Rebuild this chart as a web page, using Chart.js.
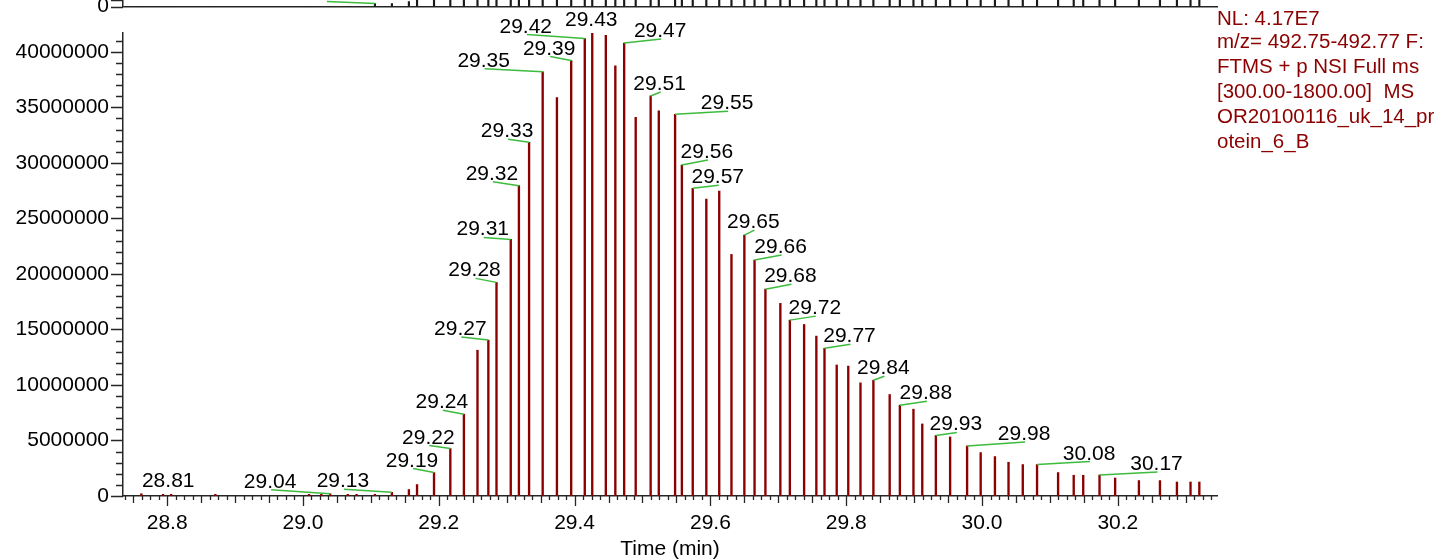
<!DOCTYPE html>
<html>
<head>
<meta charset="utf-8">
<script src="https://cdn.jsdelivr.net/npm/chart.js@4.4.1/dist/chart.umd.min.js"></script>
<style>
  html, body { margin: 0; padding: 0; background: #fff; }
  #wrap { position: relative; width: 1447px; height: 560px; overflow: hidden; background: #fff; }
  #mainChart { position: absolute; left: 0; top: 0; }
  #stripChart { position: absolute; left: 0; top: -50px; }
</style>
</head>
<body>
<div id="wrap">
  <canvas id="mainChart" width="1447" height="560"></canvas>
  <canvas id="stripChart" width="1447" height="100"></canvas>
</div>
<script>
// retention times of the scans (min)
const times = [
  28.762, 28.794, 28.806, 28.871, 29.009, 29.027, 29.040, 29.066, 29.079, 29.106,
  29.131, 29.156, 29.168, 29.193, 29.217, 29.237, 29.257, 29.273, 29.285, 29.306,
  29.318, 29.333, 29.353, 29.374, 29.395, 29.415, 29.426, 29.446, 29.460, 29.473,
  29.490, 29.512, 29.524, 29.548, 29.558, 29.574, 29.594, 29.613, 29.631, 29.650,
  29.665, 29.681, 29.703, 29.717, 29.738, 29.756, 29.768, 29.786, 29.803, 29.821,
  29.840, 29.864, 29.879, 29.899, 29.912, 29.932, 29.953, 29.978, 29.998, 30.019,
  30.039, 30.060, 30.081, 30.112, 30.135, 30.149, 30.173, 30.196, 30.231, 30.262,
  30.287, 30.307, 30.320
];

// intensity of m/z 492.75-492.77 in each scan
const intensities = [
  200000, 150000, 150000, 150000, 150000, 150000, 200000, 150000, 150000, 150000,
  330000, 580000, 1030000, 2110000, 4270000, 7370000, 13130000, 14040000, 19240000, 23110000,
  27950000, 31860000, 38200000, 35880000, 39220000, 41200000, 41700000, 41500000, 38740000, 40790000,
  34110000, 36030000, 34680000, 34380000, 29810000, 27710000, 26750000, 27470000, 21760000, 23500000,
  21250000, 18630000, 17350000, 15840000, 15450000, 14400000, 13300000, 11800000, 11700000, 10190000,
  10430000, 9140000, 8180000, 7820000, 6490000, 5450000, 5320000, 4510000, 3910000, 3550000,
  3040000, 2830000, 2830000, 2110000, 1870000, 1870000, 1890000, 1620000, 1390000, 1390000,
  1260000, 1260000, 1260000
];

// the panel above is cut off: only the bottom of its sticks shows
const upperValues = [
  0, 0, 0, 0, 0, 0, 0, 0, 0, 450000,
  450000, 750000, 5000000, 5000000, 5000000, 5000000, 5000000, 5000000, 5000000, 5000000,
  5000000, 5000000, 5000000, 5000000, 5000000, 5000000, 5000000, 5000000, 5000000, 5000000,
  5000000, 5000000, 5000000, 5000000, 5000000, 5000000, 5000000, 5000000, 5000000, 5000000,
  5000000, 5000000, 5000000, 5000000, 5000000, 5000000, 5000000, 5000000, 5000000, 5000000,
  5000000, 5000000, 5000000, 5000000, 5000000, 5000000, 5000000, 5000000, 5000000, 5000000,
  5000000, 5000000, 5000000, 5000000, 5000000, 5000000, 5000000, 5000000, 5000000, 5000000,
  5000000, 5000000, 5000000
];

const peakLabels = ['28.81', '29.04', '29.13', '29.19', '29.22', '29.24', '29.27', '29.28', '29.31', '29.32',
  '29.33', '29.35', '29.39', '29.42', '29.43', '29.47', '29.51', '29.55', '29.56', '29.57',
  '29.65', '29.66', '29.68', '29.72', '29.77', '29.84', '29.88', '29.93', '29.98', '30.08', '30.17'];
const upperPeakLabels = ['29.11'];

const xTickLabels = [28.8, 29.0, 29.2, 29.4, 29.6, 29.8, 30.0, 30.2];
const yTickLabels = [0, 5000000, 10000000, 15000000, 20000000, 25000000, 30000000, 35000000, 40000000];

const infoLines = ['NL: 4.17E7', 'm/z= 492.75-492.77 F:', 'FTMS + p NSI Full ms', '[300.00-1800.00]  MS',
  'OR20100116_uk_14_pr', 'otein_6_B'];

// layout: where each label text sits relative to its stick top [dx, dy] (px)
const labelOffsets = {
  '28.81': [-3, -7], '29.04': [-60, -6], '29.13': [-49, -5], '29.19': [-22, -6], '29.22': [-22, -5],
  '29.24': [-22, -6], '29.27': [-28, -5], '29.28': [-22, -6], '29.31': [-28, -4], '29.32': [-27, -6],
  '29.33': [-22, -5], '29.35': [-59, -5], '29.39': [-22, -6], '29.42': [-59, -6], '29.43': [-1, -7],
  '29.47': [36, -6], '29.51': [9, -6], '29.55': [52, -5], '29.56': [25, -7], '29.57': [25, -5],
  '29.65': [9, -7], '29.66': [26, -7], '29.68': [25, -7], '29.72': [25, -6], '29.77': [25, -6],
  '29.84': [10, -6], '29.88': [26, -6], '29.93': [20, -5], '29.98': [57, -6], '30.08': [52, -5],
  '30.17': [57, -5], '29.11': [-49, -4]
};

const FONT = "'Liberation Sans', Arial, sans-serif";
const STICK_COLOR = '#8b0000';
const AXIS_COLOR = '#262626';
const LEADER_COLOR = '#3dbb3d';
const X_MIN = 28.735, X_MAX = 30.346, Y_MAX = 41700000;

Chart.defaults.font.family = FONT;
Chart.defaults.font.size = 21;
Chart.defaults.color = '#000';

function nearestIndex(t) {
    let best = 0;
    for (let i = 1; i < times.length; i++) {
        if (Math.abs(times[i] - t) < Math.abs(times[best] - t)) best = i;
    }
    return best;
}

// tick marks of different length (major / mid / minor)
const axisTicks = {
    id: 'axisTicks',
    afterDraw(chart, args, opts) {
        const ctx = chart.ctx, area = chart.chartArea;
        ctx.save();
        ctx.strokeStyle = AXIS_COLOR;
        ctx.lineWidth = 1.3;
        ctx.beginPath();
        if (opts.x) {
            const s = chart.scales.x, o = opts.x;
            const kMin = Math.ceil(s.min / o.step - 1e-6), kMax = Math.floor(s.max / o.step + 1e-6);
            for (let k = kMin; k <= kMax; k++) {
                const px = Math.round(s.getPixelForValue(k * o.step)) + 0.5;
                const len = k % o.majorEvery === 0 ? o.major : (k % o.midEvery === 0 ? o.mid : o.minor);
                ctx.moveTo(px, area.bottom);
                ctx.lineTo(px, area.bottom + len);
            }
        }
        if (opts.y) {
            const s = chart.scales.y, o = opts.y;
            const kMax = Math.floor(s.max / o.step + 1e-6);
            for (let k = 0; k <= kMax; k++) {
                const py = Math.round(s.getPixelForValue(k * o.step)) + 0.5;
                const len = k % o.majorEvery === 0 ? o.major : o.minor;
                ctx.moveTo(area.left, py);
                ctx.lineTo(area.left - len, py);
            }
        }
        ctx.stroke();
        ctx.restore();
    }
};

// peak labels with green leader lines
const peakText = {
    id: 'peakText',
    afterDatasetsDraw(chart, args, opts) {
        const ctx = chart.ctx;
        const meta = chart.getDatasetMeta(0);
        ctx.save();
        ctx.font = '21px ' + FONT;
        ctx.textAlign = 'center';
        ctx.textBaseline = 'alphabetic';
        opts.labels.forEach(lab => {
            const el = meta.data[nearestIndex(parseFloat(lab))];
            const [dx, dy] = labelOffsets[lab];
            const tx = el.x + dx, ty = el.y + dy;
            if (Math.abs(dx) > 4) {
                ctx.strokeStyle = LEADER_COLOR;
                ctx.lineWidth = 1.5;
                ctx.beginPath();
                ctx.moveTo(tx + 1, ty + 2);
                ctx.lineTo(el.x, el.y);
                ctx.stroke();
            }
            ctx.fillStyle = '#000';
            ctx.fillText(lab, tx, ty);
        });
        ctx.restore();
    }
};

// instrument text block at the right
const infoText = {
    id: 'infoText',
    afterDraw(chart, args, opts) {
        if (!opts.lines) return;
        const ctx = chart.ctx;
        ctx.save();
        ctx.font = '20.5px ' + FONT;
        ctx.fillStyle = STICK_COLOR;
        ctx.textAlign = 'left';
        ctx.textBaseline = 'alphabetic';
        opts.lines.forEach((line, i) => {
            const y = i === 0 ? 25 : 48 + (i - 1) * 25;
            ctx.fillText(line, chart.chartArea.right, y);
        });
        ctx.restore();
    }
};

function stickData(values) {
    return times.map((t, i) => ({ x: t, y: values[i] }));
}

new Chart(document.getElementById('mainChart'), {
    type: 'bar',
    data: {
        datasets: [{
            data: stickData(intensities),
            backgroundColor: STICK_COLOR,
            barThickness: 1.7,
            borderWidth: 0
        }]
    },
    options: {
        responsive: false,
        animation: false,
        layout: { padding: { left: 0, right: 230, top: 33, bottom: 0 } },
        plugins: {
            legend: { display: false },
            tooltip: { enabled: false },
            axisTicks: {
                x: { step: 0.0125, majorEvery: 16, midEvery: 4, major: 10, mid: 7, minor: 4 },
                y: { step: 1000000, majorEvery: 5, major: 12, minor: 7 }
            },
            peakText: { labels: peakLabels },
            infoText: { lines: infoLines }
        },
        scales: {
            x: {
                type: 'linear',
                min: X_MIN,
                max: X_MAX,
                offset: false,
                grid: { display: false, drawTicks: false },
                border: { display: true, color: AXIS_COLOR, width: 1.5 },
                afterBuildTicks: s => { s.ticks = xTickLabels.map(v => ({ value: v })); },
                afterFit: s => { s.height = 64; },
                ticks: {
                    padding: 15,
                    maxRotation: 0,
                    callback: v => Number(v).toFixed(1)
                },
                title: {
                    display: true,
                    text: 'Time (min)',
                    font: { size: 21, lineHeight: 1 },
                    padding: 0
                }
            },
            y: {
                min: 0,
                max: Y_MAX,
                grid: { display: false, drawTicks: false },
                border: { display: true, color: AXIS_COLOR, width: 1.5 },
                afterBuildTicks: s => { s.ticks = yTickLabels.map(v => ({ value: v })); },
                afterFit: s => { s.width = 123; },
                ticks: {
                    padding: 14,
                    callback: v => String(v)
                }
            }
        }
    },
    plugins: [axisTicks, peakText, infoText]
});

// strip of the panel above (cut off at the top of the picture)
new Chart(document.getElementById('stripChart'), {
    type: 'bar',
    data: {
        datasets: [{
            data: stickData(upperValues),
            backgroundColor: '#1a1a1a',
            barThickness: 1.5,
            borderWidth: 0
        }]
    },
    options: {
        responsive: false,
        animation: false,
        layout: { padding: { left: 0, right: 230, top: 50, bottom: 0 } },
        plugins: {
            legend: { display: false },
            tooltip: { enabled: false },
            axisTicks: { y: { step: 1000000, majorEvery: 1, major: 12, minor: 12 } },
            peakText: { labels: upperPeakLabels },
            infoText: {}
        },
        scales: {
            x: {
                type: 'linear',
                min: X_MIN,
                max: X_MAX,
                offset: false,
                grid: { display: false, drawTicks: false },
                border: { display: true, color: AXIS_COLOR, width: 1.5 },
                ticks: { display: false },
                afterFit: s => { s.height = 43.5; }
            },
            y: {
                min: 0,
                max: 1000000,
                grid: { display: false, drawTicks: false },
                border: { display: true, color: AXIS_COLOR, width: 1.5 },
                afterBuildTicks: s => { s.ticks = [{ value: 0 }]; },
                afterFit: s => { s.width = 123; },
                ticks: { padding: 14, callback: v => String(v) }
            }
        }
    },
    plugins: [axisTicks, peakText, infoText]
});
</script>
</body>
</html>
